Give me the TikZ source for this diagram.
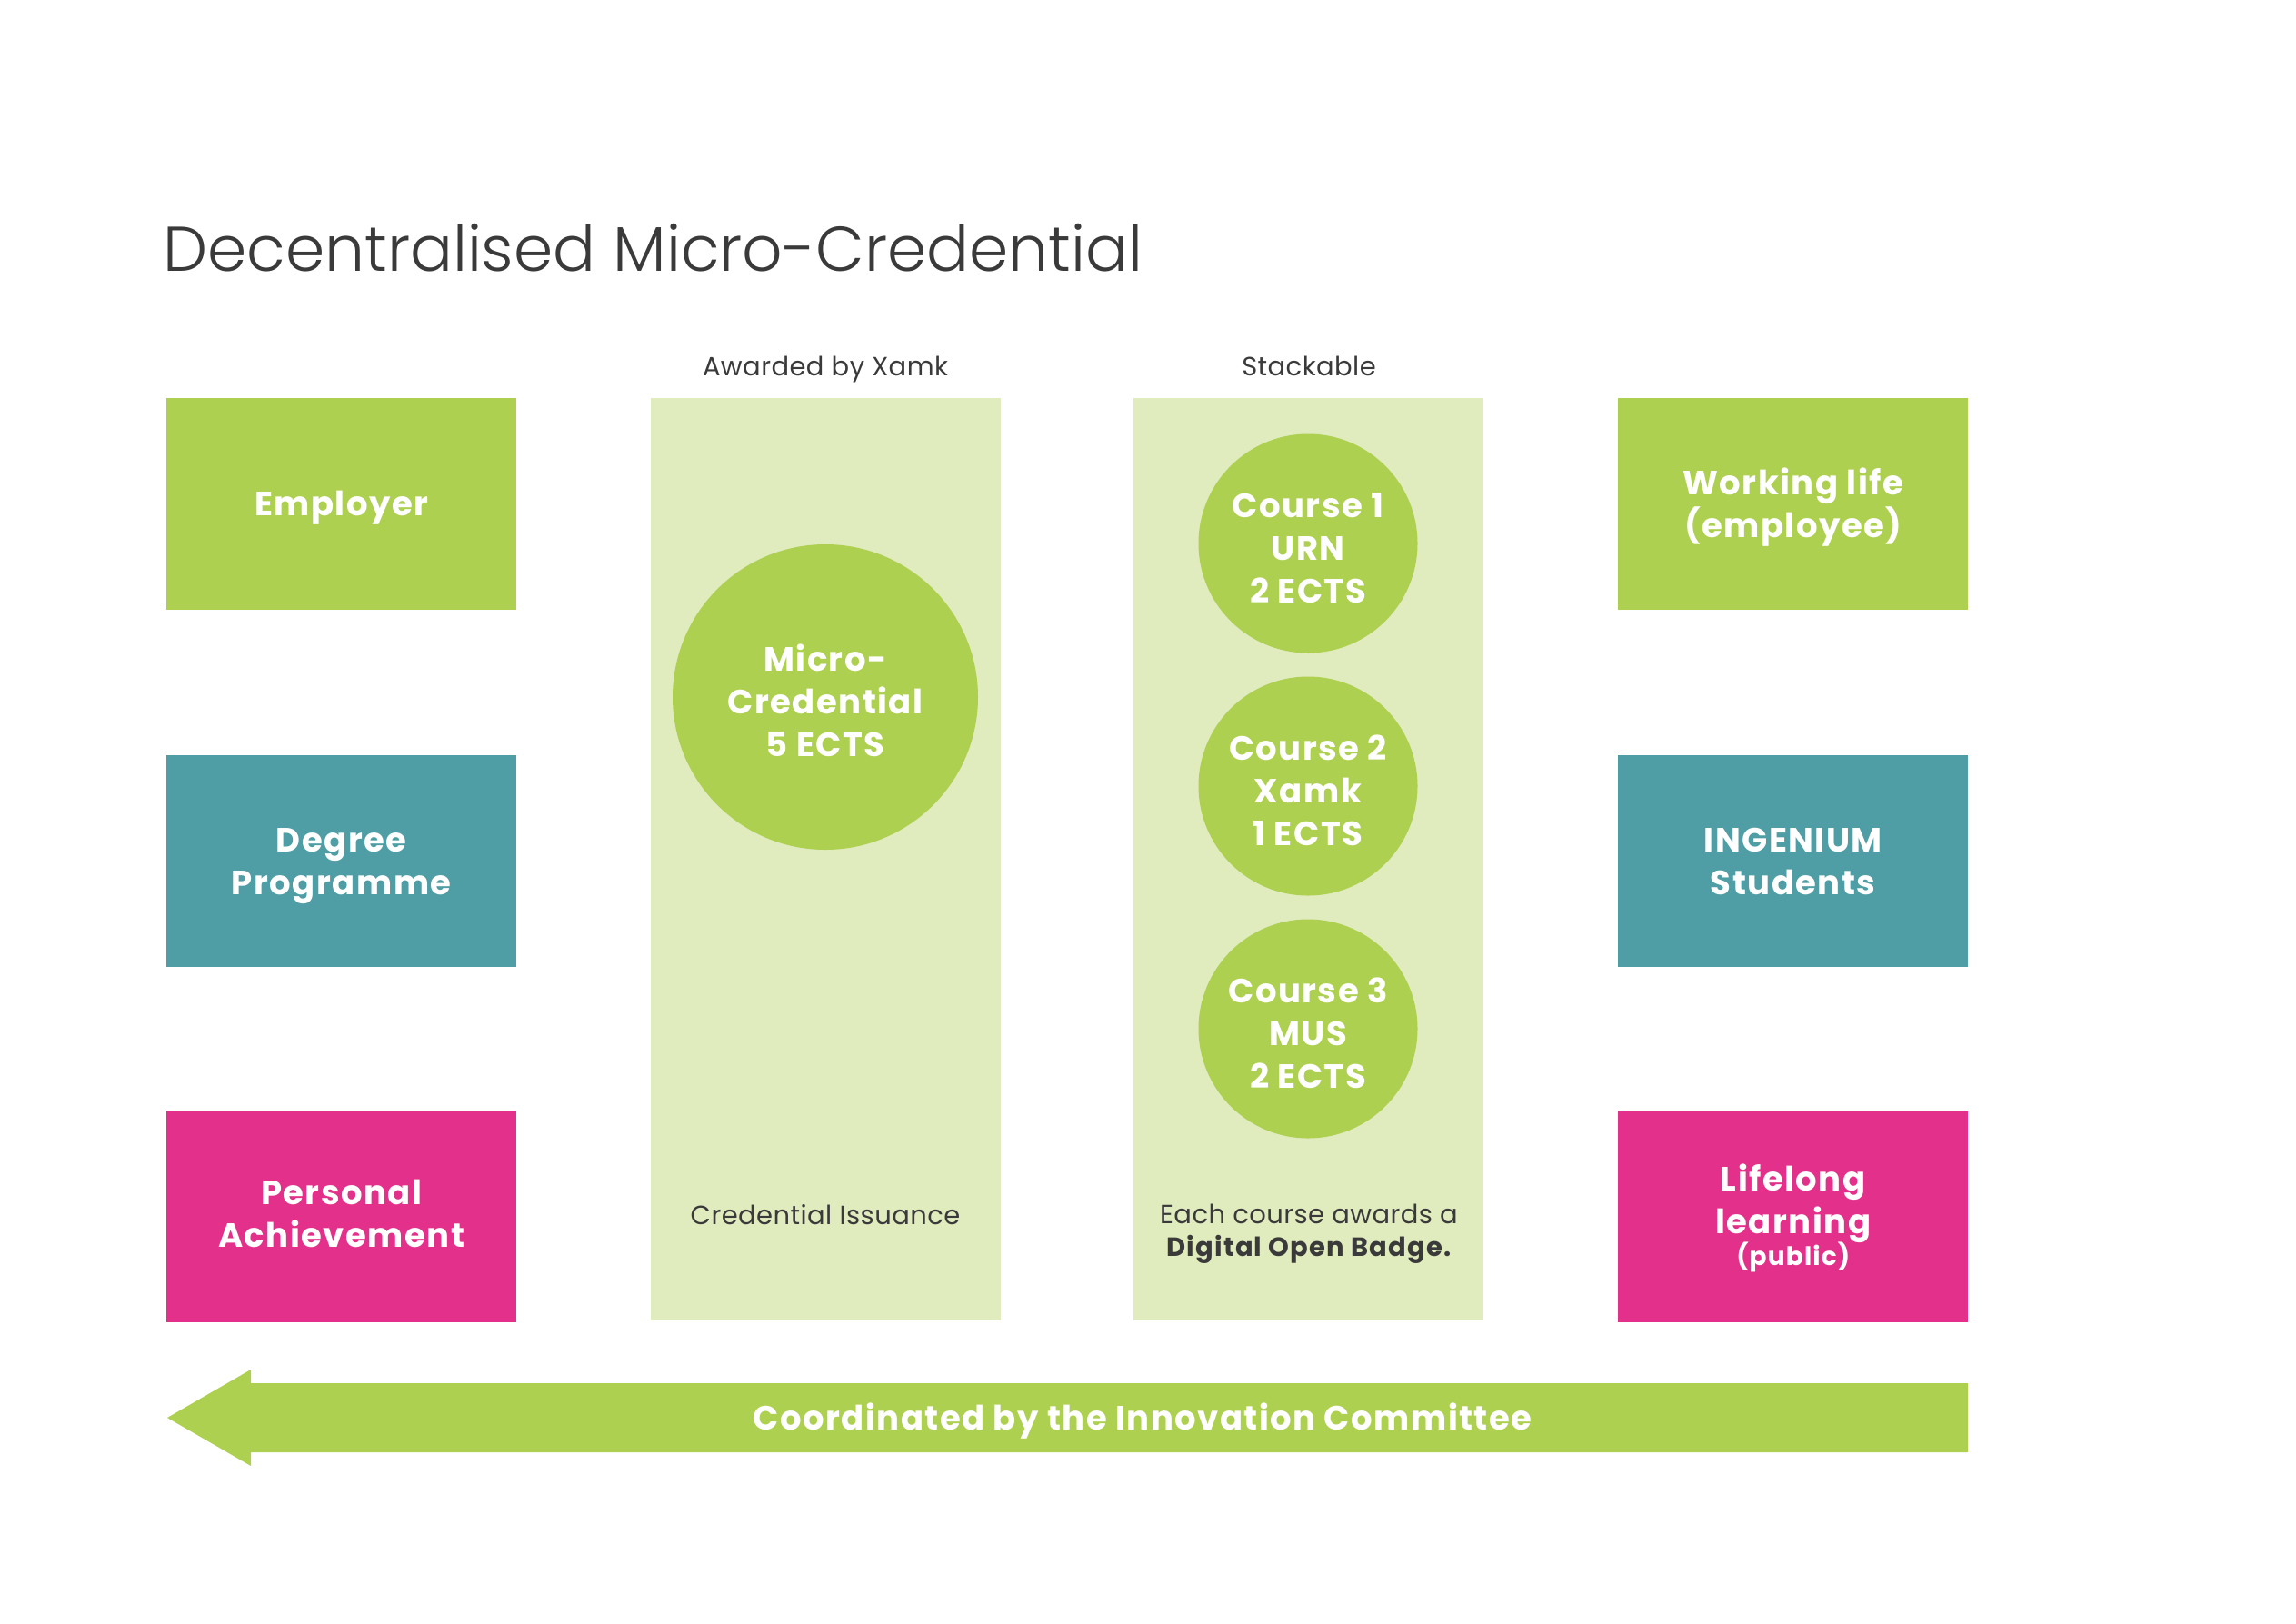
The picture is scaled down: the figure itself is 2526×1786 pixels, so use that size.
\documentclass[tikz,border=0pt]{standalone}
\usepackage{fontspec}
\setmainfont{Poppins}[UprightFeatures={LetterSpace=1.5}, BoldFeatures={LetterSpace=4}]
\newfontfamily\lightfont{Poppins Light}
\newcommand\boxstrut{\rule[-10pt]{0pt}{46pt}}
\newcommand\highstrut{\rule[-13pt]{0pt}{46pt}}
\newcommand\circstrut{\rule[-3pt]{0pt}{43pt}}
\definecolor{cgreen}{RGB}{174,208,80}
\definecolor{clight}{RGB}{224,235,190}
\definecolor{cteal}{RGB}{80,158,165}
\definecolor{cmag}{RGB}{227,48,138}
\definecolor{cdark}{RGB}{58,58,58}
\tikzset{
  box/.style={anchor=north west, minimum width=385pt, minimum height=233pt, inner sep=0pt,
    text=white, align=center, font=\bfseries\fontsize{37}{47}\selectfont},
  colbox/.style={anchor=north west, fill=clight, minimum width=385pt, minimum height=1015pt, inner sep=0pt},
  bigcirc/.style={circle, fill=cgreen, minimum size=336pt, inner sep=0pt,
    text=white, align=center, font=\bfseries\fontsize{37}{47}\selectfont},
  smallcirc/.style={circle, fill=cgreen, minimum size=241pt, inner sep=0pt,
    text=white, align=center, font=\bfseries\fontsize{37}{47}\selectfont},
  label/.style={anchor=base, text=cdark, inner sep=0pt, font=\fontsize{29}{36}\selectfont},
}
\begin{document}
\begin{tikzpicture}[x=1pt,y=-1pt]
\useasboundingbox[fill=white] (0,0) rectangle (2526,1786);
% title
\node[anchor=base west, inner sep=0pt, text=cdark, font=\lightfont\fontsize{69.5}{84}\selectfont] (title) at (179,298) {Decentralised Micro-Credential};
% left column boxes
\node[box, fill=cgreen] (employer) at (183,438) {\boxstrut Employer};
\node[box, fill=cteal] (degree) at (183,831) {\boxstrut Degree\\\boxstrut Programme};
\node[box, fill=cmag] (personal) at (183,1222) {\highstrut Personal\\\highstrut Achievement};
% right column boxes
\node[box, fill=cgreen] (working) at (1780,438) {\boxstrut Working life\\\boxstrut (employee)};
\node[box, fill=cteal] (ingenium) at (1780,831) {\boxstrut INGENIUM\\\boxstrut Students};
\node[box, fill=cmag] (lifelong) at (1780,1222) {\boxstrut Lifelong\\\boxstrut learning\\[-12pt]\boxstrut{\fontsize{28}{30}\selectfont (public)}};
% light columns
\node[colbox] (col1) at (716,438) {};
\node[colbox] (col2) at (1247,438) {};
\node[label] (awarded) at (908,413) {Awarded by Xamk};
\node[label] (stackable) at (1440,413) {Stackable};
% circles
\node[bigcirc] (micro) at (908,767) {\circstrut Micro-\\\circstrut Credential\\\circstrut 5 ECTS};
\node[smallcirc] (course1) at (1439,598) {\circstrut Course 1\\\circstrut URN\\\circstrut 2 ECTS};
\node[smallcirc] (course2) at (1439,865) {\circstrut Course 2\\\circstrut Xamk\\\circstrut 1 ECTS};
\node[smallcirc] (course3) at (1439,1132) {\circstrut Course 3\\\circstrut MUS\\\circstrut 2 ECTS};
% bottom texts
\node[label] (issuance) at (908,1347) {Credential Issuance};
\node[label] (each1) at (1440,1346) {Each course awards a};
\node[label, font=\bfseries\fontsize{29}{36}\selectfont] (each2) at (1440,1382) {Digital Open Badge.};
% arrow
\coordinate (atip) at (184,1560);
\coordinate (aend) at (2165,1560);
\fill[cgreen] (aend |- 0,1522) -- (276,1522) -- (276,1507) -- (atip) -- (276,1613) -- (276,1598) -- (aend |- 0,1598) -- cycle;
\node[anchor=base, inner sep=0pt, text=white, font=\bfseries\fontsize{37}{47}\selectfont] (coord) at (1257,1573) {Coordinated by the Innovation Committee};
\end{tikzpicture}
\end{document}
